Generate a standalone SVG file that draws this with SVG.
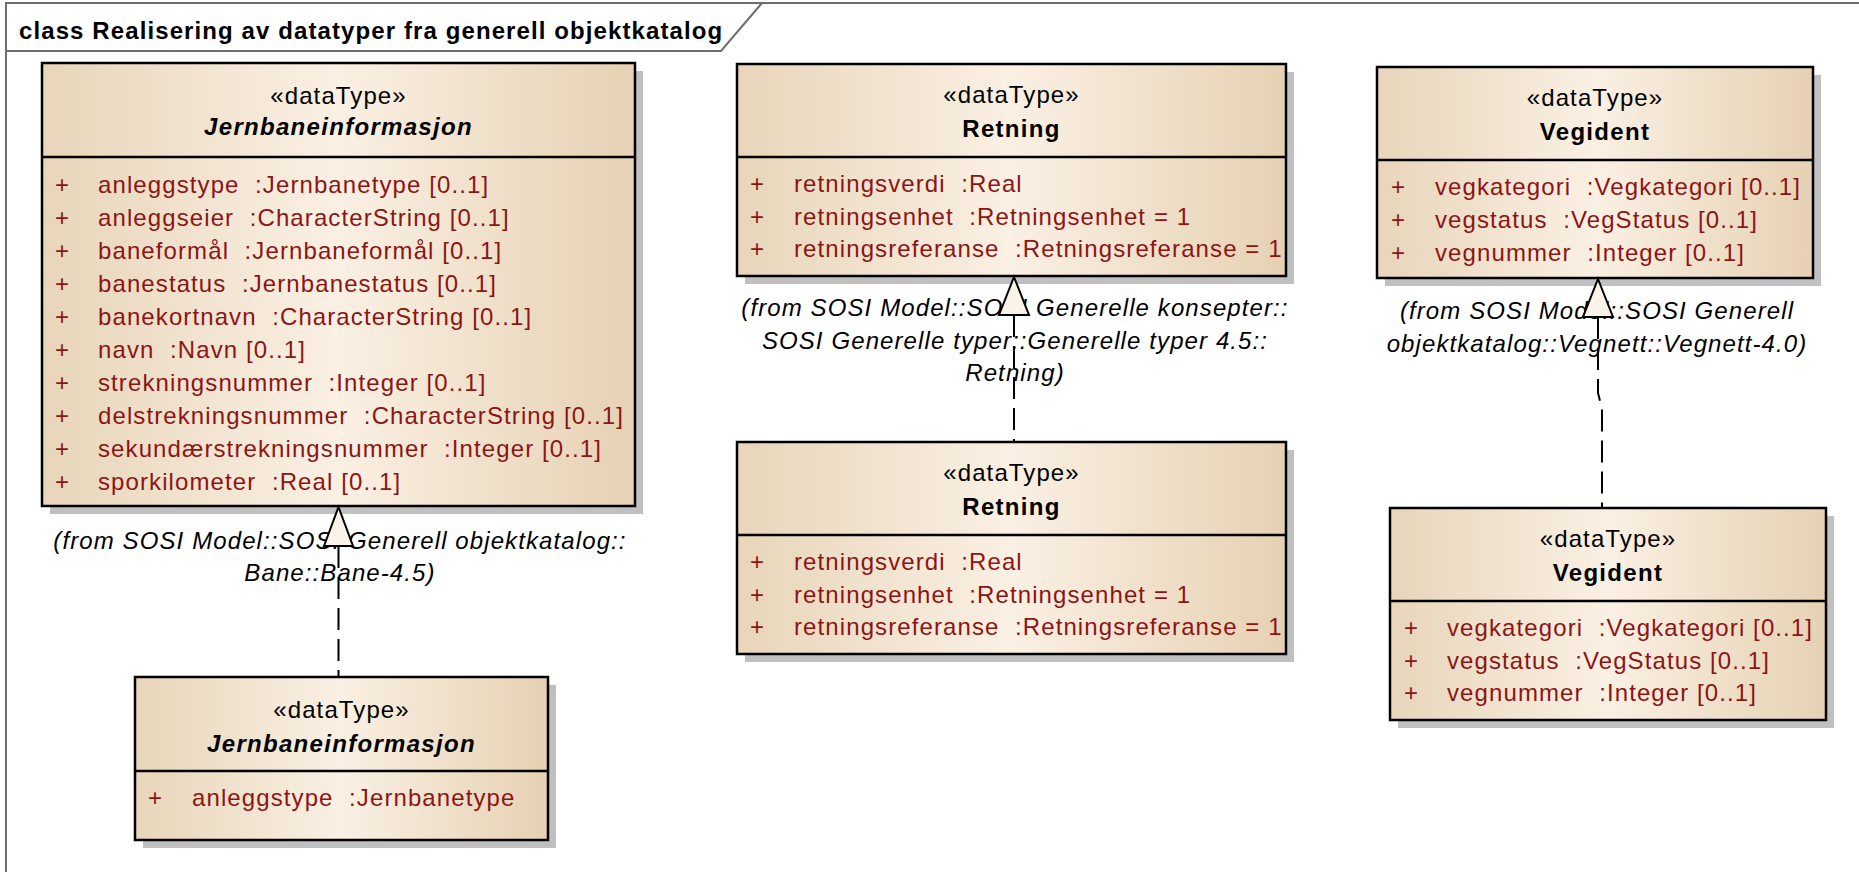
<svg xmlns="http://www.w3.org/2000/svg" width="1859" height="872" viewBox="0 0 1859 872" xml:space="preserve">
<defs>
<linearGradient id="fill" x1="0" y1="0" x2="1" y2="0">
<stop offset="0" stop-color="#E8D5BA"/>
<stop offset="0.5" stop-color="#FAF0E3"/>
<stop offset="1" stop-color="#E6D1B3"/>
</linearGradient>
<style>
text { font-family: "Liberation Sans", Arial, sans-serif; font-size: 24px; letter-spacing: 1.1px; fill: #000; white-space: pre; }
.title { font-weight: bold; }
.st { text-anchor: middle; }
.nm { text-anchor: middle; font-weight: bold; letter-spacing: 1.3px; }
.it { font-style: italic; }
.at { fill: #8C1515; }
.lb { font-style: italic; text-anchor: middle; }
.box { fill: url(#fill); stroke: #000; stroke-width: 2.5; }
.sh { fill: #C0C0C0; }
.sep { stroke: #000; stroke-width: 2.5; }
.dash { fill: none; stroke: #000; stroke-width: 2; stroke-dasharray: 22 9; }
.tri { fill: #FAF3E8; stroke: #000; stroke-width: 2; }
.frame { fill: none; stroke: #6E6E6E; stroke-width: 2; }
</style>
</defs>
<rect x="0" y="0" width="1859" height="872" fill="#FFFFFF"/>
<g id="frame">
<path class="frame" d="M6,872 L6,3 L1859,3"/>
<path class="frame" d="M6,51 L721,51 L762,3"/>
<text class="title" x="19" y="39">class Realisering av datatyper fra generell objektkatalog</text>
</g>
<g id="node-jernbaneinformasjon-full">
<rect class="sh" x="50" y="71" width="593" height="443"/>
<rect class="box" x="42" y="63" width="593" height="443"/>
<line class="sep" x1="42" y1="157" x2="635" y2="157"/>
<text class="st" x="338.5" y="104">«dataType»</text>
<text class="nm it" x="338.5" y="135">Jernbaneinformasjon</text>
<text class="at" x="55" y="193">+</text><text class="at" x="98" y="193">anleggstype  :Jernbanetype [0..1]</text>
<text class="at" x="55" y="226">+</text><text class="at" x="98" y="226">anleggseier  :CharacterString [0..1]</text>
<text class="at" x="55" y="259">+</text><text class="at" x="98" y="259">baneformål  :Jernbaneformål [0..1]</text>
<text class="at" x="55" y="292">+</text><text class="at" x="98" y="292">banestatus  :Jernbanestatus [0..1]</text>
<text class="at" x="55" y="325">+</text><text class="at" x="98" y="325">banekortnavn  :CharacterString [0..1]</text>
<text class="at" x="55" y="358">+</text><text class="at" x="98" y="358">navn  :Navn [0..1]</text>
<text class="at" x="55" y="391">+</text><text class="at" x="98" y="391">strekningsnummer  :Integer [0..1]</text>
<text class="at" x="55" y="424">+</text><text class="at" x="98" y="424">delstrekningsnummer  :CharacterString [0..1]</text>
<text class="at" x="55" y="457">+</text><text class="at" x="98" y="457">sekundærstrekningsnummer  :Integer [0..1]</text>
<text class="at" x="55" y="490">+</text><text class="at" x="98" y="490">sporkilometer  :Real [0..1]</text>
</g>
<g id="node-retning-top">
<rect class="sh" x="745" y="72" width="549" height="212"/>
<rect class="box" x="737" y="64" width="549" height="212"/>
<line class="sep" x1="737" y1="157" x2="1286" y2="157"/>
<text class="st" x="1011.5" y="103">«dataType»</text>
<text class="nm" x="1011.5" y="137">Retning</text>
<text class="at" x="750" y="192">+</text><text class="at" x="794" y="192">retningsverdi  :Real</text>
<text class="at" x="750" y="225">+</text><text class="at" x="794" y="225">retningsenhet  :Retningsenhet = 1</text>
<text class="at" x="750" y="257">+</text><text class="at" x="794" y="257">retningsreferanse  :Retningsreferanse = 1</text>
</g>
<g id="node-vegident-top">
<rect class="sh" x="1385" y="75" width="436" height="211"/>
<rect class="box" x="1377" y="67" width="436" height="211"/>
<line class="sep" x1="1377" y1="160" x2="1813" y2="160"/>
<text class="st" x="1595" y="106">«dataType»</text>
<text class="nm" x="1595" y="140">Vegident</text>
<text class="at" x="1391" y="195">+</text><text class="at" x="1435" y="195">vegkategori  :Vegkategori [0..1]</text>
<text class="at" x="1391" y="228">+</text><text class="at" x="1435" y="228">vegstatus  :VegStatus [0..1]</text>
<text class="at" x="1391" y="261">+</text><text class="at" x="1435" y="261">vegnummer  :Integer [0..1]</text>
</g>
<g id="node-jernbaneinformasjon-small">
<rect class="sh" x="143" y="685" width="413" height="163"/>
<rect class="box" x="135" y="677" width="413" height="163"/>
<line class="sep" x1="135" y1="771" x2="548" y2="771"/>
<text class="st" x="341.5" y="718">«dataType»</text>
<text class="nm it" x="341.5" y="752">Jernbaneinformasjon</text>
<text class="at" x="148" y="806">+</text><text class="at" x="192" y="806">anleggstype  :Jernbanetype</text>
</g>
<g id="node-retning-bottom">
<rect class="sh" x="745" y="450" width="549" height="212"/>
<rect class="box" x="737" y="442" width="549" height="212"/>
<line class="sep" x1="737" y1="535" x2="1286" y2="535"/>
<text class="st" x="1011.5" y="481">«dataType»</text>
<text class="nm" x="1011.5" y="515">Retning</text>
<text class="at" x="750" y="570">+</text><text class="at" x="794" y="570">retningsverdi  :Real</text>
<text class="at" x="750" y="603">+</text><text class="at" x="794" y="603">retningsenhet  :Retningsenhet = 1</text>
<text class="at" x="750" y="635">+</text><text class="at" x="794" y="635">retningsreferanse  :Retningsreferanse = 1</text>
</g>
<g id="node-vegident-bottom">
<rect class="sh" x="1398" y="516" width="436" height="212"/>
<rect class="box" x="1390" y="508" width="436" height="212"/>
<line class="sep" x1="1390" y1="601" x2="1826" y2="601"/>
<text class="st" x="1608" y="547">«dataType»</text>
<text class="nm" x="1608" y="581">Vegident</text>
<text class="at" x="1404" y="636">+</text><text class="at" x="1447" y="636">vegkategori  :Vegkategori [0..1]</text>
<text class="at" x="1404" y="669">+</text><text class="at" x="1447" y="669">vegstatus  :VegStatus [0..1]</text>
<text class="at" x="1404" y="701">+</text><text class="at" x="1447" y="701">vegnummer  :Integer [0..1]</text>
</g>
<g id="connectors">
<text class="lb" x="340" y="549">(from SOSI Model::SOSI Generell objektkatalog::</text>
<text class="lb" x="340" y="581">Bane::Bane-4.5)</text>
<text class="lb" x="1015" y="316">(from SOSI Model::SOSI Generelle konsepter::</text>
<text class="lb" x="1015" y="349">SOSI Generelle typer::Generelle typer 4.5::</text>
<text class="lb" x="1015" y="381">Retning)</text>
<text class="lb" x="1597" y="319">(from SOSI Model::SOSI Generell</text>
<text class="lb" x="1597" y="352">objektkatalog::Vegnett::Vegnett-4.0)</text>
<path class="dash" d="M338.5,546 L338.5,677"/>
<path class="tri" d="M338.5,507 L353,546 L324,546 Z"/>
<path class="dash" d="M1014,315 L1014,442"/>
<path class="tri" d="M1014,277 L1029,315 L999,315 Z"/>
<path class="dash" d="M1598,317 L1598,393 L1602,409 L1602,508"/>
<path class="tri" d="M1598,279 L1613,317 L1583,317 Z"/>
</g>
</svg>
